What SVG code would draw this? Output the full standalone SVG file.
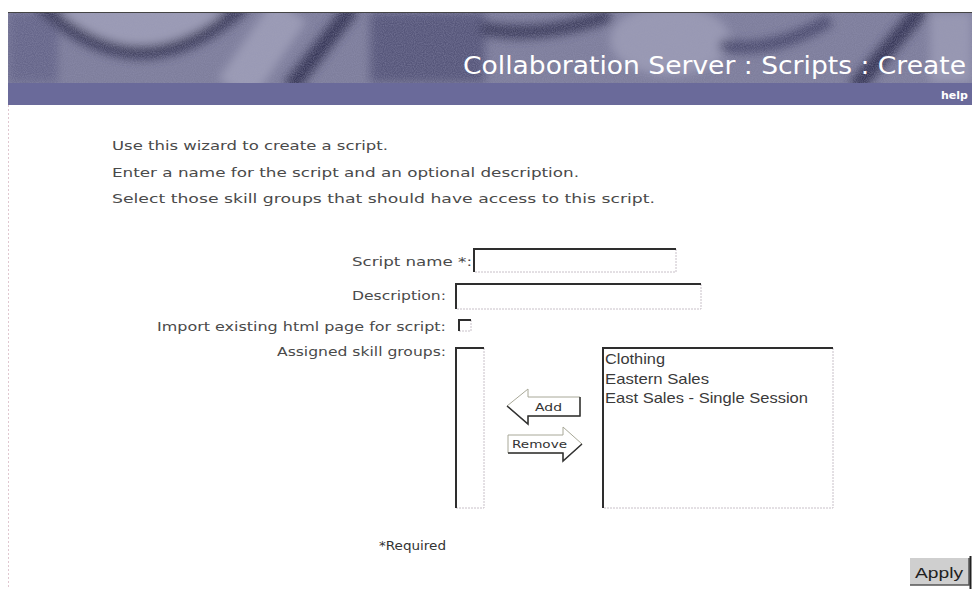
<svg xmlns="http://www.w3.org/2000/svg" width="972" height="589" viewBox="0 0 972 589">
<defs>
<style>
.lbl{font-family:"DejaVu Sans","Verdana",sans-serif;font-size:13px;fill:#4a4a4a}
.item{font-family:"Liberation Sans",Arial,sans-serif;font-size:15px;fill:#3a3a3a}
.btn{font-family:"DejaVu Sans",sans-serif;font-size:11px;fill:#333}
.dark{stroke:#2e2e2e;stroke-width:2;fill:none}
.light{stroke:#c8c0c8;stroke-width:1;stroke-dasharray:2 1;fill:none}
</style>
<clipPath id="bclip"><rect x="8" y="12" width="964" height="71"/></clipPath>
<filter id="blur" x="-20%" y="-50%" width="140%" height="200%"><feGaussianBlur stdDeviation="5"/></filter>
<filter id="noise" x="0" y="0" width="100%" height="100%">
<feTurbulence type="fractalNoise" baseFrequency="0.9" numOctaves="1" seed="3" result="n"/>
<feColorMatrix in="n" type="matrix" values="0 0 0 0 0.3  0 0 0 0 0.3  0 0 0 0 0.45  0 0 0 -1.6 1.1"/>
</filter>
</defs>

<g id="header">
<g clip-path="url(#bclip)">
<rect x="8" y="12" width="964" height="71" fill="#7e7e9c"/>
<g filter="url(#blur)">
<rect x="8" y="12" width="50" height="71" fill="#66668a"/>
<ellipse cx="140" cy="22" rx="85" ry="25" fill="#9c9cb6"/>
<path d="M 40 5 Q 140 100 245 5" stroke="#3a3a5a" stroke-width="14" fill="none"/>
<path d="M 235 90 L 290 10" stroke="#9c9cb6" stroke-width="40" fill="none"/>
<path d="M 290 88 L 352 8" stroke="#363654" stroke-width="16" fill="none"/>
<rect x="370" y="12" width="115" height="71" fill="#56567a"/>
<path d="M 480 28 Q 540 40 610 15" stroke="#3a3a5a" stroke-width="14" fill="none"/>
<ellipse cx="670" cy="40" rx="60" ry="35" fill="#9a9ab4"/>
<path d="M 720 45 Q 770 55 830 20" stroke="#46466a" stroke-width="12" fill="none"/>
<path d="M 855 88 L 922 8" stroke="#363654" stroke-width="16" fill="none"/>
<rect x="930" y="12" width="42" height="71" fill="#9898b2"/>
</g>
<rect x="8" y="12" width="964" height="71" filter="url(#noise)" opacity="0.5"/>
</g>
<line x1="8" y1="12.5" x2="972" y2="12.5" stroke="#444" stroke-width="1"/>
<rect x="8" y="83" width="964" height="22" fill="#6a6a9a"/>
<text x="463" y="74" font-family="DejaVu Sans,Verdana,sans-serif" font-size="24" fill="#ffffff" textLength="503" lengthAdjust="spacingAndGlyphs">Collaboration Server : Scripts : Create</text>
<text x="941" y="99" font-family="DejaVu Sans,Verdana,sans-serif" font-size="11" font-weight="bold" fill="#ffffff">help</text>
</g>

<g id="page-border">
<line x1="8.5" y1="105" x2="8.5" y2="589" stroke="#e0c8d0" stroke-width="1" stroke-dasharray="2 2"/>
</g>

<g id="intro">
<text class="lbl" x="112" y="150" textLength="276" lengthAdjust="spacingAndGlyphs">Use this wizard to create a script.</text>
<text class="lbl" x="112" y="177" textLength="467" lengthAdjust="spacingAndGlyphs">Enter a name for the script and an optional description.</text>
<text class="lbl" x="112" y="203" textLength="543" lengthAdjust="spacingAndGlyphs">Select those skill groups that should have access to this script.</text>
</g>

<g id="field-script-name">
<text class="lbl" x="472" y="266" text-anchor="end" textLength="120" lengthAdjust="spacingAndGlyphs">Script name *:</text>
<rect x="473" y="248" width="203" height="24" fill="#fff"/>
<polyline class="light" points="676,249 676,272 474,272"/>
<polyline class="dark" points="474,272 474,249 676,249"/>
</g>

<g id="field-description">
<text class="lbl" x="446" y="300" text-anchor="end" textLength="94" lengthAdjust="spacingAndGlyphs">Description:</text>
<rect x="455" y="283" width="246" height="26" fill="#fff"/>
<polyline class="light" points="701,284 701,309 456,309"/>
<polyline class="dark" points="456,309 456,284 701,284"/>
</g>

<g id="field-import">
<text class="lbl" x="446" y="331" text-anchor="end" textLength="289" lengthAdjust="spacingAndGlyphs">Import existing html page for script:</text>
<rect x="458" y="319" width="13" height="12" fill="#fff"/>
<polyline class="light" points="471,320 471,331 459,331"/>
<polyline class="dark" points="459,331 459,320 471,320"/>
</g>

<g id="field-skill-groups">
<text class="lbl" x="446" y="356" text-anchor="end" textLength="169" lengthAdjust="spacingAndGlyphs">Assigned skill groups:</text>
</g>

<g id="list-assigned">
<rect x="455" y="347" width="29" height="161" fill="#fff"/>
<polyline class="light" points="484,348 484,508 456,508"/>
<polyline class="dark" points="456,508 456,348 484,348"/>
</g>

<g id="btn-add">
<polygon points="507,406 528,389 528,397 580,397 580,416 528,416 528,424" fill="#fff" stroke="#a8a898" stroke-width="1"/>
<polyline points="507,406 528,424 528,416 580,416 580,397" fill="none" stroke="#333" stroke-width="1.5"/>
<text class="btn" x="535" y="411" textLength="27" lengthAdjust="spacingAndGlyphs">Add</text>
</g>

<g id="btn-remove">
<polygon points="508,435 563,435 563,427 582,444 563,461 563,453 508,453" fill="#fff" stroke="#a8a898" stroke-width="1"/>
<polyline points="508,453 563,453 563,461 582,444" fill="none" stroke="#333" stroke-width="1.5"/>
<text class="btn" x="512" y="448" textLength="55" lengthAdjust="spacingAndGlyphs">Remove</text>
</g>

<g id="list-available">
<rect x="602" y="347" width="231" height="161" fill="#fff"/>
<polyline class="light" points="833,348 833,508 603,508"/>
<polyline class="dark" points="603,508 603,348 833,348"/>
<text class="item" x="605" y="364" textLength="60" lengthAdjust="spacingAndGlyphs">Clothing</text>
<text class="item" x="605" y="384" textLength="104" lengthAdjust="spacingAndGlyphs">Eastern Sales</text>
<text class="item" x="605" y="403" textLength="203" lengthAdjust="spacingAndGlyphs">East Sales - Single Session</text>
</g>

<g id="required-note">
<text x="379" y="550" font-family="DejaVu Sans,sans-serif" font-size="12" fill="#333" textLength="67" lengthAdjust="spacingAndGlyphs">*Required</text>
</g>

<g id="btn-apply">
<rect x="910" y="558" width="59" height="27" fill="#cfcfcf"/>
<polyline points="910,585 969,585 969,558" fill="none" stroke="#555" stroke-width="1.5"/>
<line x1="970.5" y1="556" x2="970.5" y2="589" stroke="#222" stroke-width="2"/>
<text x="915" y="578" font-family="Liberation Sans,Arial,sans-serif" font-size="15" fill="#222" textLength="48" lengthAdjust="spacingAndGlyphs">Apply</text>
</g>

<g id="connectors"/>
</svg>
